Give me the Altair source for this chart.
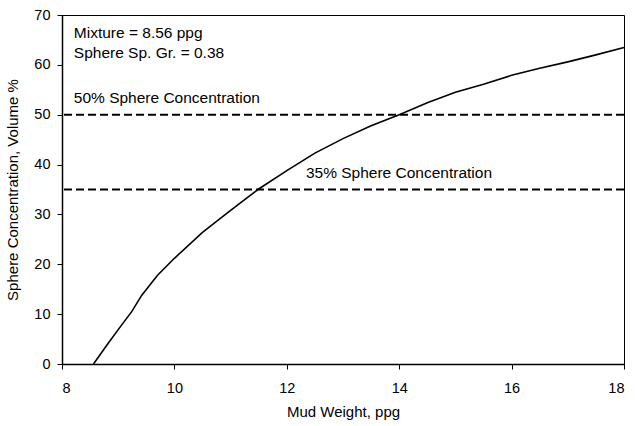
import altair as alt
import pandas as pd

# Sphere concentration curve (mud weight in ppg vs. volume %)
mud_weight = [8.56, 8.8, 9.0, 9.24, 9.42, 9.7, 10.0, 10.5, 11.0, 11.5, 12.0,
              12.5, 13.0, 13.5, 14.0, 14.5, 15.0, 15.5, 16.0, 16.5, 17.0, 17.5, 18.0]
concentration = [0.0, 3.8, 6.9, 10.5, 13.8, 17.8, 21.2, 26.4, 30.8, 35.1, 38.8,
                 42.3, 45.2, 47.8, 50.0, 52.4, 54.5, 56.1, 57.9, 59.3, 60.6, 62.0, 63.5]

# Reference concentration levels
ref_levels = [50, 35]

# Annotation texts with their anchor positions
note_text = ["Mixture = 8.56 ppg", "Sphere Sp. Gr. = 0.38",
             "50% Sphere Concentration", "35% Sphere Concentration"]
note_x = [8.21, 8.21, 8.21, 12.34]
note_y = [66.4, 62.4, 53.4, 38.4]

FONT = "Liberation Sans"

curve_df = pd.DataFrame({"mw": mud_weight, "conc": concentration})
ref_df = pd.DataFrame({"level": ref_levels})
notes_df = pd.DataFrame({"text": note_text, "x": note_x, "y": note_y})

x_scale = alt.Scale(domain=[8, 18], nice=False, zero=False)
y_scale = alt.Scale(domain=[0, 70], nice=False)

curve = alt.Chart(curve_df).mark_line(color="black", strokeWidth=1.6).encode(
    x=alt.X("mw:Q", scale=x_scale,
            axis=alt.Axis(title="Mud Weight, ppg", values=[8, 10, 12, 14, 16, 18],
                          format="d", grid=False, labelPadding=12, titlePadding=10)),
    y=alt.Y("conc:Q", scale=y_scale,
            axis=alt.Axis(title="Sphere Concentration, Volume %",
                          values=[0, 10, 20, 30, 40, 50, 60, 70],
                          grid=False, labelPadding=7, titlePadding=13)),
)

refs = alt.Chart(ref_df).mark_rule(color="black", strokeWidth=2, strokeDash=[8, 4]).encode(
    y=alt.Y("level:Q", scale=y_scale),
)

notes = alt.Chart(notes_df).mark_text(
    align="left", baseline="middle", font=FONT, fontSize=15.5, color="black"
).encode(
    x=alt.X("x:Q", scale=x_scale),
    y=alt.Y("y:Q", scale=y_scale),
    text="text:N",
)

chart = alt.layer(refs, curve, notes).properties(
    width=562,
    height=349,
    autosize=alt.AutoSizeParams(type="none"),
    padding={"left": 62, "top": 15, "right": 11, "bottom": 62},
    background="white",
).configure_view(
    stroke="black", strokeWidth=1
).configure_axis(
    domainColor="black", domainWidth=1.5, tickColor="black", tickSize=5,
    labelFont=FONT, labelFontSize=14.5, labelColor="black",
    titleFont=FONT, titleFontSize=15, titleFontWeight="normal", titleColor="black",
)

chart.save("out.html", embed_options={"renderer": "svg", "actions": False})
